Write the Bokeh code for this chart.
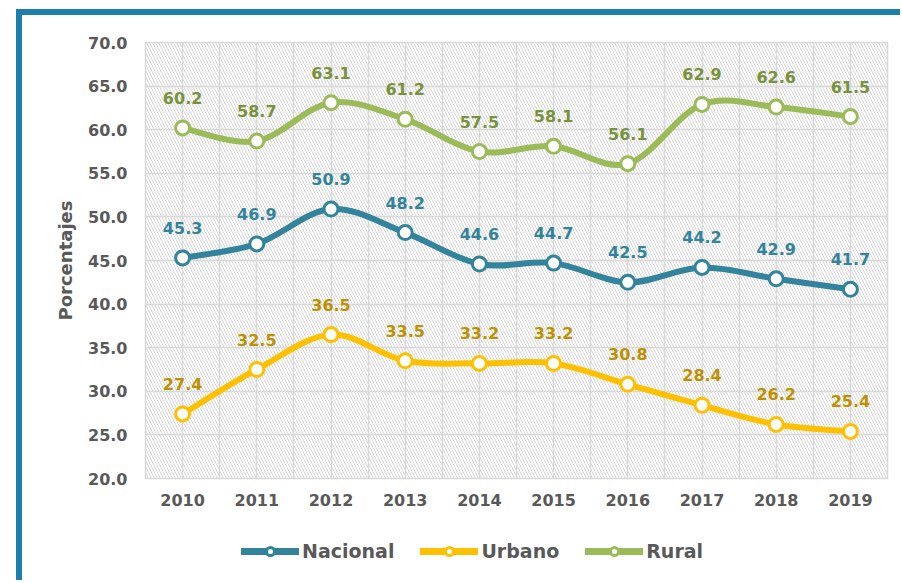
from bokeh.plotting import figure
from bokeh.layouts import column
from bokeh.models import (FixedTicker, BoxAnnotation, Legend, LegendItem, Label,
                          NumeralTickFormatter, Range1d, ColumnDataSource)
from bokeh.core.properties import value
from bokeh.embed import file_html
from bokeh.resources import INLINE

years = [2010, 2011, 2012, 2013, 2014, 2015, 2016, 2017, 2018, 2019]
nacional = [45.3, 46.9, 50.9, 48.2, 44.6, 44.7, 42.5, 44.2, 42.9, 41.7]
urbano = [27.4, 32.5, 36.5, 33.5, 33.2, 33.2, 30.8, 28.4, 26.2, 25.4]
rural = [60.2, 58.7, 63.1, 61.2, 57.5, 58.1, 56.1, 62.9, 62.6, 61.5]
series_names = ["Nacional", "Urbano", "Rural"]
y_ticks = [20, 25, 30, 35, 40, 45, 50, 55, 60, 65, 70]
title_text = "Dominio, por Año"
y_title = "Porcentajes"

line_colors = ["#31849B", "#FFC000", "#9BBB59"]
label_colors = ["#31849B", "#BF9000", "#77933C"]
FONT = "DejaVu Sans"
GRAY = "#595959"
BLUE = "#1B80AF"

p = figure(width=900, height=525, output_backend="svg", toolbar_location=None,
           x_range=Range1d(years[0] - 0.5, years[-1] + 0.5),
           y_range=Range1d(y_ticks[0], y_ticks[-1]),
           min_border_left=145, min_border_right=13, min_border_top=42,
           min_border_bottom=47)
p.styles = {"box-shadow": f"inset 16px 9px 0 0 #ffffff, inset 22px 15px 0 0 {BLUE}"}
p.border_fill_color = None
p.background_fill_color = "white"
p.outline_line_color = "#D9D9D9"
p.outline_line_width = 1.5

# hatched plot area
p.add_layout(BoxAnnotation(fill_alpha=0, line_alpha=0, hatch_pattern="\\",
                           hatch_color="#D4D4D4", hatch_scale=6, hatch_weight=1,
                           level="image"))

# axes
p.xaxis.ticker = FixedTicker(ticks=years, minor_ticks=[y - 0.5 for y in years] + [years[-1] + 0.5])
p.yaxis.ticker = FixedTicker(ticks=y_ticks)
p.yaxis.formatter = NumeralTickFormatter(format="0.0")
for ax in (p.xaxis, p.yaxis):
    ax.axis_line_color = None
    ax.major_tick_line_color = None
    ax.minor_tick_line_color = None
    ax.major_label_text_font = FONT
    ax.major_label_text_font_style = "bold"
    ax.major_label_text_font_size = "16px"
    ax.major_label_text_color = GRAY
p.xaxis.major_label_standoff = 9
p.yaxis.major_label_standoff = 12
p.yaxis.axis_label = y_title
p.yaxis.axis_label_text_font = FONT
p.yaxis.axis_label_text_font_style = "bold"
p.yaxis.axis_label_text_font_size = "18px"
p.yaxis.axis_label_text_color = GRAY
p.yaxis.axis_label_standoff = 9

p.xgrid.grid_line_color = "#D9D9D9"
p.xgrid.grid_line_width = 1.5
p.xgrid.minor_grid_line_color = "#D9D9D9"
p.xgrid.minor_grid_line_width = 1.5
p.ygrid.grid_line_color = "#D9D9D9"
p.ygrid.grid_line_width = 1.5


def smooth_segments(xs, ys):
    n = len(xs)
    x0, y0, x1, y1, cx0, cy0, cx1, cy1 = [], [], [], [], [], [], [], []
    for i in range(n - 1):
        ip, inn, i2 = max(i - 1, 0), i + 1, min(i + 2, n - 1)
        x0.append(xs[i]); y0.append(ys[i])
        x1.append(xs[inn]); y1.append(ys[inn])
        cx0.append(xs[i] + (xs[inn] - xs[ip]) / 6.0)
        cy0.append(ys[i] + (ys[inn] - ys[ip]) / 6.0)
        cx1.append(xs[inn] - (xs[i2] - xs[i]) / 6.0)
        cy1.append(ys[inn] - (ys[i2] - ys[i]) / 6.0)
    return dict(x0=x0, y0=y0, x1=x1, y1=y1, cx0=cx0, cy0=cy0, cx1=cx1, cy1=cy1)


# separate strip for the legend, below the chart
lg = figure(width=900, height=55, output_backend="svg", toolbar_location=None,
            x_range=Range1d(0, 1), y_range=Range1d(0, 1),
            x_axis_location=None, y_axis_location=None,
            min_border_left=0, min_border_right=0, min_border_top=0,
            min_border_bottom=0)
lg.styles = {"box-shadow": f"inset 16px 0 0 0 #ffffff, inset 22px 0 0 0 {BLUE}"}
lg.border_fill_color = None
lg.background_fill_color = None
lg.outline_line_color = None
lg.xgrid.visible = False
lg.ygrid.visible = False

items = []
for name, vals, lc, tc in zip(series_names, [nacional, urbano, rural], line_colors, label_colors):
    seg = ColumnDataSource(smooth_segments(years, vals))
    p.bezier(x0="x0", y0="y0", x1="x1", y1="y1", cx0="cx0", cy0="cy0",
             cx1="cx1", cy1="cy1", source=seg, line_color=lc, line_width=6,
             line_cap="round")
    p.scatter(years, vals, marker="circle", size=14, fill_color="white",
              line_color=lc, line_width=3)
    p.text(years, vals, text=[f"{v:.1f}" for v in vals], text_align="center",
           text_baseline="alphabetic", y_offset=-30, text_font=value(FONT),
           text_font_style="bold", text_font_size="16px", text_color=tc)
    # legend renderers in the strip (data lies outside its view range)
    lg_line = lg.line(years, vals, line_color=lc, line_width=7, line_cap="round")
    lg_mark = lg.scatter(years, vals, marker="circle", size=12, fill_color="white",
                         line_color=lc, line_width=3)
    items.append(LegendItem(label=name, renderers=[lg_line, lg_mark]))

legend = Legend(items=items, orientation="horizontal", location=(96, 18),
                label_text_font=FONT, label_text_font_style="bold",
                label_text_font_size="19px", label_text_color=GRAY,
                glyph_width=58, glyph_height=20, spacing=26, label_standoff=3,
                border_line_color=None, background_fill_alpha=0,
                padding=0, margin=0)
lg.add_layout(legend, "center")

p.add_layout(Label(x=years[0] - 0.5 - 130 / 74.2, y=y_ticks[-1] + 39 / 8.72,
                   text=title_text, text_font=FONT, text_font_style="italic",
                   text_font_size="16px", text_color=GRAY,
                   text_baseline="alphabetic"))

layout = column(p, lg, spacing=0)
open("out.html", "w").write(file_html(layout, INLINE))
